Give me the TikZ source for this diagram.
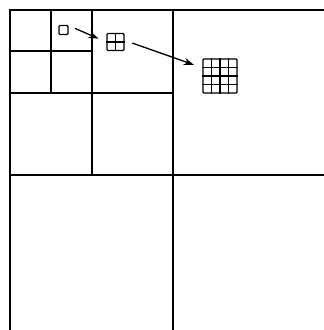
\documentclass[tikz,border=0pt]{standalone}
\usetikzlibrary{arrows.meta,calc}
\begin{document}
\begin{tikzpicture}[x=1pt,y=-1pt,
 quadline/.style={line width=1.4pt},
 cellbox/.style={draw,line width=1.4pt,rounded corners=1pt,inner sep=0pt,minimum size=#1},
 refine/.style={-{Stealth[length=10pt,width=7pt]},line width=1.3pt}]
\useasboundingbox (0,0) rectangle (324,330);
\draw[quadline] (10,330) -- (10,10) -- (324,10);
\draw[quadline] (10,175) -- (324,175);
\draw[quadline] (173,10) -- (173,330);
\draw[quadline] (92,10) -- (92,175) (10,93) -- (173,93);
\draw[quadline] (51,10) -- (51,93) (10,51) -- (92,51);
\node[cellbox=9pt] (coarse) at (63.5,30) {};
\node[cellbox=17pt] (middle) at (115.5,42) {};
\node[cellbox=34pt] (fine) at (220,76) {};
\draw[line width=1.2pt] (middle.north) -- (middle.south) (middle.west) -- (middle.east);
\foreach \t in {0.25,0.5,0.75}
  \draw[line width=1.2pt] ($(fine.north west)!\t!(fine.north east)$) -- ($(fine.south west)!\t!(fine.south east)$)
    ($(fine.north west)!\t!(fine.south west)$) -- ($(fine.north east)!\t!(fine.south east)$);
\draw[refine,shorten <=7pt,shorten >=8.5pt] (coarse.40) -- (middle.west);
\draw[refine,shorten <=8pt,shorten >=9pt] (middle.10) -- (fine.155);
\end{tikzpicture}
\end{document}
